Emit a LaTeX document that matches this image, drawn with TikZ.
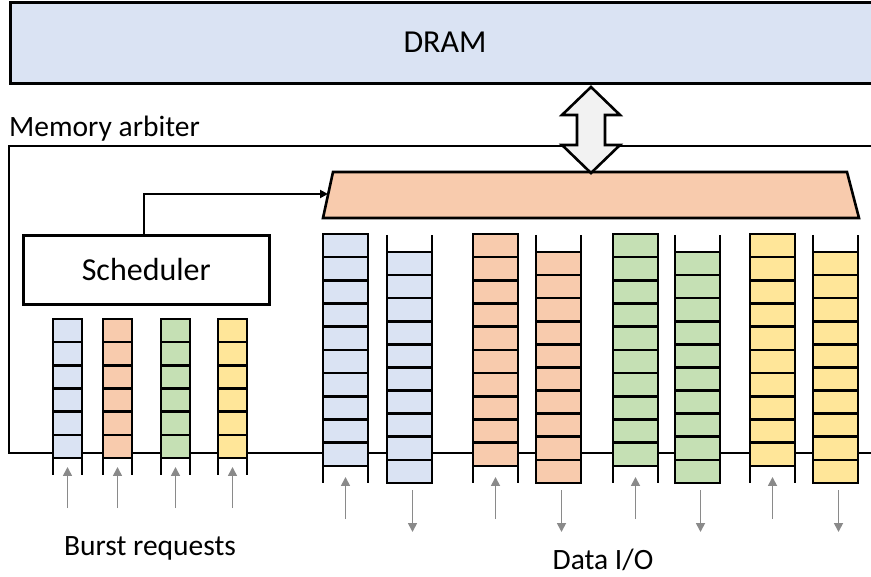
\documentclass[tikz,border=0pt]{standalone}
\usepackage{fontspec}
\setmainfont{Carlito}
\usetikzlibrary{arrows.meta}

\definecolor{dramblue}{HTML}{DAE3F3}
\definecolor{qblue}{HTML}{DAE3F3}
\definecolor{qorange}{HTML}{F8CBAD}
\definecolor{qgreen}{HTML}{C5E0B4}
\definecolor{qyellow}{HTML}{FFE699}
\definecolor{feedgray}{HTML}{8A8A8A}
\definecolor{busfill}{HTML}{F2F2F2}

\begin{document}
\begin{tikzpicture}[x=1pt, y=-1pt, line join=miter,
  outline/.style={draw=black, line width=2.6pt},
  feed/.style={draw=feedgray, line width=1.7pt, -{Triangle[length=9pt,width=9pt]}},
  bigtext/.style={font=\fontsize{32}{38}\selectfont, inner sep=0pt},
  smalltext/.style={font=\fontsize{29.5}{35}\selectfont, inner sep=0pt}]

\useasboundingbox (0,0) rectangle (871,577);

% DRAM block (runs off the right edge)
\node[outline, fill=dramblue, anchor=north west, inner sep=0pt,
      minimum width=880pt, minimum height=81pt] (dram) at (9,1) {};
\node[bigtext, anchor=base] (dramlabel) at (445,53) {DRAM};

% Memory arbiter outline (open to the right)
\node[smalltext, anchor=base west] (arblabel) at (9,137) {Memory arbiter};
\coordinate (arbTR) at (885,146);
\coordinate (arbTL) at (9,146);
\coordinate (arbBL) at (9,453);
\coordinate (arbBR) at (885,453);
\draw[outline] (arbTR) -- (arbTL) -- (arbBL) -- (arbBR);

% Data bus (trapezoid)
\coordinate (trapBL) at (323,218);
\coordinate (trapTL) at (333,172);
\coordinate (trapTR) at (847,172);
\coordinate (trapBR) at (859,218);
\coordinate (trapL) at (328,194);
\draw[outline, fill=qorange] (trapBL) -- (trapTL) -- (trapTR) -- (trapBR) -- cycle;

% Bidirectional link between DRAM and the bus
\draw[outline, fill=busfill] (591,87) -- (620,115) -- (605,115) -- (605,145)
  -- (620,145) -- (591,173) -- (562,145) -- (577,145) -- (577,115)
  -- (562,115) -- cycle;

% Scheduler
\node[outline, anchor=north west, inner sep=0pt, minimum width=246pt,
      minimum height=69pt, font=\fontsize{32}{38}\selectfont] (sched) at (22,234) {Scheduler};
\coordinate (schedout) at (144,234);
\draw[outline, -{Triangle[length=8pt,width=8pt]}] (schedout) |- (trapL);

% Burst request queues
\foreach \x/\c [count=\i] in {53/qblue,103/qorange,161/qgreen,218/qyellow} {
  \fill[\c] (\x,319) rectangle ++(29,139);
  \foreach \k in {1,...,6}
    \draw[outline] (\x,{319+\k*23.167}) -- ++(29,0);
  \draw[outline] (\x,475) -- (\x,319) -- ({\x+29},319) -- ({\x+29},475);
  \coordinate (req\i) at ({\x+14.5},508);
  \draw[feed] (req\i) -- ++(0,-41);
}
\node[smalltext, anchor=base] (burstlabel) at (150,555) {Burst requests};

% Write-data queues (filled from below)
\foreach \x/\c [count=\i] in {323/qblue,473/qorange,613/qgreen,750/qyellow} {
  \fill[\c] (\x,234) rectangle ++(45,232);
  \foreach \k in {1,...,10}
    \draw[outline] (\x,{234+\k*23.2}) -- ++(45,0);
  \draw[outline] (\x,483) -- (\x,234) -- ({\x+45},234) -- ({\x+45},483);
  \coordinate (win\i) at ({\x+22.5},519);
  \draw[feed] (win\i) -- ++(0,-42);
}

% Read-data queues (drained below)
\foreach \x/\c [count=\i] in {387/qblue,536/qorange,675/qgreen,813/qyellow} {
  \fill[\c] (\x,252) rectangle ++(45,231);
  \foreach \k in {0,...,9}
    \draw[outline] (\x,{252+\k*23.1}) -- ++(45,0);
  \draw[outline] (\x,235) -- (\x,483) -- ({\x+45},483) -- ({\x+45},235);
  \coordinate (rout\i) at ({\x+25.5},490);
  \draw[feed] (rout\i) -- ++(0,42);
}
\node[smalltext, anchor=base] (iolabel) at (603,569) {Data I/O};

\end{tikzpicture}
\end{document}
